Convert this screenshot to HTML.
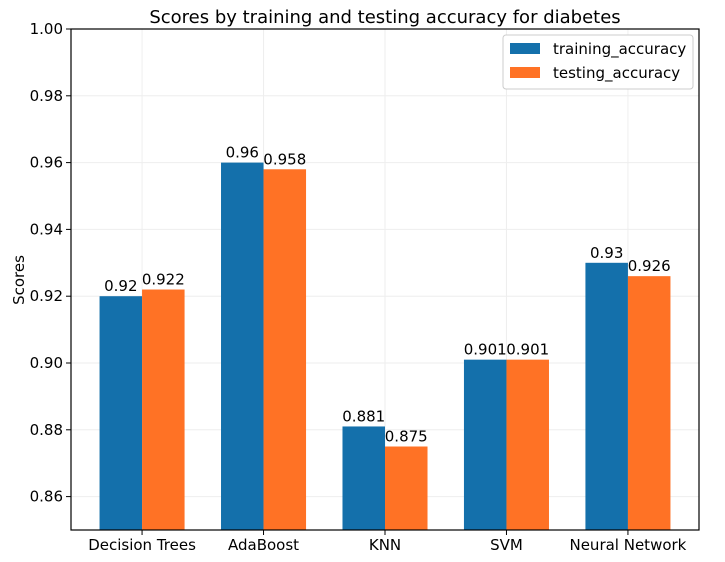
<!DOCTYPE html>
<html><head><meta charset="utf-8"><style>
body{margin:0;background:#fff;}
svg text{font-family:"DejaVu Sans","Liberation Sans",sans-serif;fill:#000;}
</style></head><body>
<svg id="chart" width="725" height="557" xmlns="http://www.w3.org/2000/svg">
<rect width="725" height="557" fill="#fff"/>
<g id="grid"></g>
<g id="bars"></g>
<g id="labels"></g>
<rect x="71" y="29" width="628" height="501" fill="none" stroke="#000" stroke-width="1.2"/>
<g id="yticks"></g>
<g id="xticks"></g>
<text x="385" y="23" text-anchor="middle" font-size="18">Scores by training and testing accuracy for diabetes</text>
<text transform="translate(24,280) rotate(-90)" text-anchor="middle" font-size="15">Scores</text>
<g>
<rect x="503" y="35" width="190" height="54" rx="3" fill="#fff" stroke="#ccc"/>
<rect x="510" y="43" width="30" height="11" fill="#1470ab"/>
<text x="553" y="54" font-size="15">training_accuracy</text>
<rect x="510" y="67" width="30" height="11" fill="#ff7225"/>
<text x="553" y="78" font-size="15">testing_accuracy</text>
</g>
</svg>
<script>
const categories=["Decision Trees","AdaBoost","KNN","SVM","Neural Network"];
const training=[0.92,0.96,0.881,0.901,0.93];
const testing=[0.922,0.958,0.875,0.901,0.926];
const yTicks=[0.86,0.88,0.90,0.92,0.94,0.96,0.98,1.00];
const NS="http://www.w3.org/2000/svg";
const L=71,R=699,T=29,B=530,ymin=0.85,ymax=1.0;
const y=v=>B-(v-ymin)/(ymax-ymin)*(B-T);
const xmin=-0.585,xmax=categories.length-1+0.585;
const x=i=>L+(i-xmin)/(xmax-xmin)*(R-L);
const unit=(R-L)/(xmax-xmin),bw=0.35*unit;
function mk(tag,attrs,parent,txt){const e=document.createElementNS(NS,tag);for(const k in attrs)e.setAttribute(k,attrs[k]);if(txt!==undefined)e.textContent=txt;document.getElementById(parent).appendChild(e);return e;}
yTicks.forEach(t=>{
 const yy=y(t);
 let g=mk('line',{x1:L,x2:R,y1:yy,y2:yy,stroke:'#eee','stroke-width':1},'grid');
 
 
 let tk=mk('line',{x1:L-5,x2:L,y1:yy,y2:yy,stroke:'#000'},'yticks');
 
 
 let tl=mk('text',{x:L-8,y:yy+5,'text-anchor':'end','font-size':15},'yticks',t.toFixed(2));
 
 
});
function fmt(v){return String(+v.toFixed(3));}
categories.forEach((c,i)=>{
 const cx=x(i);
 let g=mk('line',{x1:cx,x2:cx,y1:T,y2:B,stroke:'#eee','stroke-width':1},'grid');
 
 
 let b1=mk('rect',{x:cx-bw,y:y(training[i]),width:bw,height:B-y(training[i]),fill:'#1470ab'},'bars');
 
 
 let b2=mk('rect',{x:cx,y:y(testing[i]),width:bw,height:B-y(testing[i]),fill:'#ff7225'},'bars');
 
 
 let l1=mk('text',{x:cx-bw/2,y:y(training[i])-5,'text-anchor':'middle','font-size':15},'labels',fmt(training[i]));
 
 
 let l2=mk('text',{x:cx+bw/2,y:y(testing[i])-5,'text-anchor':'middle','font-size':15},'labels',fmt(testing[i]));
 
 
 let tk=mk('line',{x1:cx,x2:cx,y1:B,y2:B+5,stroke:'#000'},'xticks');
 
 
 let tl=mk('text',{x:cx,y:B+20,'text-anchor':'middle','font-size':15},'xticks',c);
 
 
});
</script>
</body></html>
